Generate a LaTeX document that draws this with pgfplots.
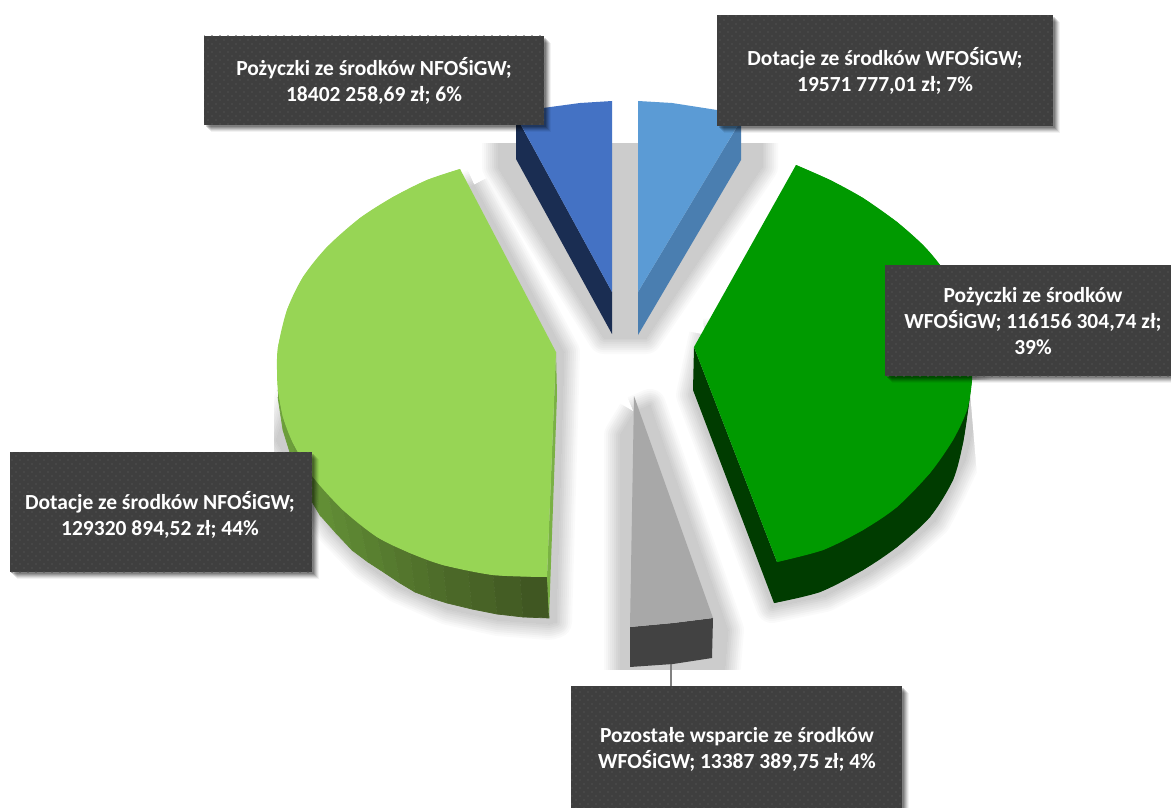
\documentclass[border=0pt]{standalone}
\usepackage{pgfplots}
\pgfplotsset{compat=1.18}
\usepackage{pgfplotstable}
\usepackage{fontspec}
\setmainfont{Carlito}
\usetikzlibrary{patterns.meta}
\definecolor{boxc}{HTML}{3F3F3F}
\definecolor{dotc}{HTML}{505050}
\definecolor{lgtop}{HTML}{97D555}
\definecolor{lgL}{HTML}{6EA13C}
\definecolor{lgR}{HTML}{3D5220}
\definecolor{dgtop}{HTML}{009A00}
\definecolor{dgside}{HTML}{003C00}
\definecolor{btop}{HTML}{4472C4}
\definecolor{bside}{HTML}{1A2D52}
\definecolor{ltop}{HTML}{5B9BD5}
\definecolor{lside}{HTML}{4A7EB0}
% Shadow outlines (pixel positions in the reference)
\pgfplotstableread{
x y
498 130
762 130
762 167
646 338
604 338
498 167
498 130
}\sBlue
\pgfplotstableread{
x y
474 185
427 205
393 225
345 270
310 325
300 370
276 440
305 490
332 530
365 564
398 587
448 609
498 620
549 624
556 622
564 352
474 185
}\sLG
\pgfplotstableread{
x y
705 335
692 395
772 607
825 596
868 574
902 551
935 521
950 492
965 460
975 420
975 300
705 335
}\sDG
\pgfplotstableread{
x y
634 412
620 435
620 700
722 700
728 630
650 405
634 412
}\sGrey
\newcommand{\shadowlayer}[2]{%
  \addplot[draw=#2,fill=#2,line width=#1pt,line join=round] table {\sBlue};
  \addplot[draw=#2,fill=#2,line width=#1pt,line join=round] table {\sLG};
  \addplot[draw=#2,fill=#2,line width=#1pt,line join=round] table {\sDG};
  \addplot[draw=#2,fill=#2,line width=#1pt,line join=round] table {\sGrey};
}
\newcommand{\lblbox}[4]{%
  \addplot[fill=black,draw=none,opacity=.05,xshift=7pt,yshift=-7pt] coordinates {(#1,#2)(#3,#2)(#3,#4)(#1,#4)};
  \addplot[fill=black,draw=none,opacity=.08,xshift=6pt,yshift=-6pt] coordinates {(#1,#2)(#3,#2)(#3,#4)(#1,#4)};
  \addplot[fill=black,draw=none,opacity=.10,xshift=5pt,yshift=-5pt] coordinates {(#1,#2)(#3,#2)(#3,#4)(#1,#4)};
  \addplot[fill=black,draw=none,opacity=.12,xshift=4pt,yshift=-4pt] coordinates {(#1,#2)(#3,#2)(#3,#4)(#1,#4)};
  \addplot[fill=black,draw=none,opacity=.14,xshift=3pt,yshift=-3pt] coordinates {(#1,#2)(#3,#2)(#3,#4)(#1,#4)};
  \addplot[fill=black,draw=none,opacity=.16,xshift=2pt,yshift=-2pt] coordinates {(#1,#2)(#3,#2)(#3,#4)(#1,#4)};
  \addplot[fill=boxc,draw=none] coordinates {(#1,#2)(#3,#2)(#3,#4)(#1,#4)};
  \addplot[draw=none,pattern={Dots[distance=8pt,radius=.8pt]},pattern color=dotc] coordinates {(#1,#2)(#3,#2)(#3,#4)(#1,#4)};
  \addplot[draw=none,pattern={Dots[distance=8pt,radius=.8pt,xshift=4pt,yshift=4pt]},pattern color=dotc] coordinates {(#1,#2)(#3,#2)(#3,#4)(#1,#4)};
}
\newcommand{\lbl}[3]{\node[text=white,align=center,font=\fontsize{21.5}{26}\selectfont\bfseries,inner sep=0pt,anchor=center] at (axis cs:#1,#2) {#3};}
\newcommand{\band}[2]{\addplot[fill=lgL!#1!lgR,draw=lgL!#1!lgR,line width=.7pt] coordinates {#2};}
\begin{document}
\begin{tikzpicture}
\begin{axis}[
  scale only axis,width=1171pt,height=808pt,
  xmin=0,xmax=1171,ymin=0,ymax=808,y dir=reverse,
  hide axis]
% shadows
\shadowlayer{32}{black!2}
\shadowlayer{28}{black!4}
\shadowlayer{24}{black!6.5}
\shadowlayer{20}{black!9}
\shadowlayer{16}{black!11}
\shadowlayer{12}{black!13.5}
\shadowlayer{8}{black!16}
\shadowlayer{4}{black!18}
\shadowlayer{0}{black!20}
% trimming of the shadow area
\addplot[fill=white,draw=none] coordinates {(0,0)(1171,0)(1171,143)(0,143)};
\addplot[fill=white,draw=none] coordinates {(0,670)(1171,670)(1171,808)(0,808)};
\addplot[fill=white,draw=none] coordinates {(200,380)(274,380)(274,660)(200,660)};
\addplot[fill=white,draw=none] coordinates {(969,380)(980,510)(1060,510)(1060,380)};
% leader line
\addplot[draw=black!50,line width=1.5pt] coordinates {(671,664)(671,686)};
% dark blue slice
\addplot[fill=bside,draw=none] coordinates {(516,116)(516,159)(612,334)(612,292)};
\addplot[fill=btop,draw=none] coordinates {(612,101)(580,103)(543,108)(516,116)(612,292)};
% light blue slice
\addplot[fill=lside,draw=none] coordinates {(741,120)(741,160)(638,335)(638,292)};
\addplot[fill=ltop,draw=none] coordinates {(638,101)(672,103)(717,110)(741,120)(638,292)};
% dark green slice
\addplot[fill=dgside,draw=none] coordinates {(694,347)(693,390)(774,603)(820,592)(863,570)(897,547)(930,517)(953,480)(963,443)(969,403)(972,375)(930,400)(777,562)};
\addplot[fill=dgside,draw=none,smooth] coordinates {(774,603)(820,592)(863,570)(897,547)(930,517)(953,480)(963,443)(969,403)(972,375)};
\addplot[fill=dgtop,draw=none] coordinates {(796,165)(830,180)(863,198)(897,222)(923,245)(940,265)(955,290)(966,320)(971,350)(972,380)(967,410)(953,440)(930,473)(897,507)(863,530)(823,550)(777,562)(694,347)};
\addplot[fill=dgtop,draw=none,smooth] coordinates {(796,165)(830,180)(863,198)(897,222)(923,245)(940,265)(955,290)(966,320)(971,350)(972,380)(967,410)(953,440)(930,473)(897,507)(863,530)(823,550)(777,562)};
% grey slice
\addplot[fill=black!74,draw=none] coordinates {(630,627)(630,667)(673,664)(712,658)(713,618)(673,623)};
\addplot[fill=black!34,draw=none] coordinates {(634,396)(713,618)(673,623)(630,627)};
% light green slice, side in bands
\band{100}{(278,390)(283,417)(283,430)(278,397)}
\band{95}{(283,417)(293,443)(297,475)(283,430)}
\band{88}{(293,443)(303,460)(308,495)(297,475)}
\band{82}{(303,460)(313,477)(320,515)(308,495)}
\band{76}{(313,477)(328,494)(336,533)(320,515)}
\band{70}{(328,494)(343,510)(352,550)(336,533)}
\band{64}{(343,510)(360,524)(368,562)(352,550)}
\band{58}{(360,524)(377,537)(385,573)(368,562)}
\band{52}{(377,537)(393,545)(400,583)(385,573)}
\band{46}{(393,545)(410,553)(415,592)(400,583)}
\band{40}{(410,553)(426,559)(431,598)(415,592)}
\band{34}{(426,559)(443,565)(447,603)(431,598)}
\band{28}{(443,565)(468,570)(472,609)(447,603)}
\band{22}{(468,570)(493,575)(497,614)(472,609)}
\band{14}{(493,575)(520,576)(523,617)(497,614)}
\band{6}{(520,576)(547,577)(549,618)(523,617)}
% thin cut face at the right of the light green slice
\addplot[fill=lgL!70!lgtop,draw=none] coordinates {(556,352)(557,395)(549,618)(547,577)};
% light green top face
\addplot[fill=lgtop,draw=none] coordinates {(460,169)(427,180)(393,197)(360,218)(327,247)(303,277)(287,310)(278,347)(277,370)(278,390)(283,417)(293,443)(313,477)(343,510)(377,537)(410,553)(443,565)(493,575)(547,577)(556,352)};
\addplot[fill=lgtop,draw=none,smooth] coordinates {(460,169)(427,180)(393,197)(360,218)(327,247)(303,277)(287,310)(278,347)(277,370)(278,390)(283,417)(293,443)(313,477)(343,510)(377,537)(410,553)(443,565)(493,575)(547,577)};
% label boxes
\lblbox{204}{36}{544}{125}
\lblbox{717}{15}{1053}{126}
\lblbox{885}{265}{1180}{376}
\lblbox{10}{452}{312}{572}
\lblbox{571}{686}{902}{820}
\lbl{374}{81}{Pożyczki ze środków NFOŚiGW;\\18402 258,69 zł; 6\%}
\lbl{885}{71}{Dotacje ze środków WFOŚiGW;\\19571 777,01 zł; 7\%}
\lbl{1033}{321}{Pożyczki ze środków\\WFOŚiGW; 116156 304,74 zł;\\39\%}
\lbl{160}{515}{Dotacje ze środków NFOŚiGW;\\129320 894,52 zł; 44\%}
\lbl{737}{749}{Pozostałe wsparcie ze środków\\WFOŚiGW; 13387 389,75 zł; 4\%}
\end{axis}
\end{tikzpicture}
\end{document}
